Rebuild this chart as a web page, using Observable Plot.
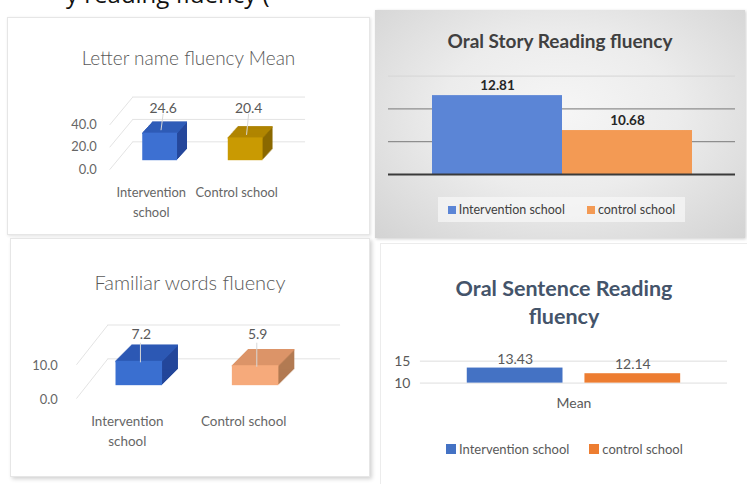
<!DOCTYPE html>
<html>
<head>
<meta charset="utf-8">
<script src="https://cdn.jsdelivr.net/npm/d3@7"></script>
<script src="https://cdn.jsdelivr.net/npm/@observablehq/plot@0.6"></script>
<style>
  body { margin:0; width:747px; height:484px; overflow:hidden; position:relative; background:#fff; font-family: Lato, "Liberation Sans", sans-serif; }
  .abs { position:absolute; }
  .card { position:absolute; background:#fff; box-sizing:border-box; }
  .title { position:absolute; left:0; right:0; text-align:center; white-space:nowrap; }
  .leg { position:absolute; display:flex; align-items:center; white-space:nowrap; }
  .sw { display:inline-block; width:8px; height:8px; margin-right:3px; }
  svg { position:absolute; }
</style>
</head>
<body>
<div class="abs" style="left:66px; top:-18px; font-size:24px; line-height:24px; color:#111; white-space:nowrap; font-family:'Open Sans';">y reading fluency (</div>

<div class="card" id="p1" style="left:7px; top:17px; width:363px; height:218px; border:1px solid #e6e6e6; box-shadow:1px 1px 3px rgba(0,0,0,0.12);">
  <div class="title" style="top:28px; font-size:19px; font-weight:300; color:#595959;">Letter name fluency Mean</div>
</div>

<div class="card" id="p2" style="left:375px; top:10px; width:370px; height:228px; background: radial-gradient(ellipse at 50% 45%, #f6f6f6 0%, #ececec 45%, #d3d3d3 100%); box-shadow:1px 1px 3px rgba(0,0,0,0.2);">
  <div class="title" style="top:19px; font-size:19px; font-weight:700; color:#404040;">Oral Story Reading fluency</div>
  <div class="leg" style="left:63px; top:187px; width:247px; height:25px; background:rgba(248,248,248,0.7); font-size:12.5px; color:#404040; justify-content:center; gap:22px;">
    <span style="display:flex;align-items:center"><span class="sw" style="background:#5b85d6"></span>Intervention school</span>
    <span style="display:flex;align-items:center"><span class="sw" style="background:#f39a54"></span>control school</span>
  </div>
</div>

<div class="card" id="p3" style="left:10px; top:238px; width:360px; height:239px; border:1px solid #e6e6e6; box-shadow:2px 2px 4px rgba(0,0,0,0.18);">
  <div class="title" style="top:31px; font-size:20px; font-weight:300; color:#595959;">Familiar words fluency</div>
</div>

<div class="card" id="p4" style="left:380px; top:243px; width:367px; height:241px; border-left:1px solid #ececec; border-top:1px solid #ececec;">
  <div class="title" style="top:30px; font-size:21.5px; line-height:28px; font-weight:700; color:#44546a;">Oral Sentence Reading<br>fluency</div>
  <div class="leg" style="left:65px; top:197px; font-size:13px; color:#595959;">
    <span style="display:flex;align-items:center;margin-right:20px"><span class="sw" style="background:#4472c4;width:10px;height:10px"></span>Intervention school</span>
    <span style="display:flex;align-items:center"><span class="sw" style="background:#ed7d31;width:10px;height:10px"></span>control school</span>
  </div>
</div>

<script>
// ---------- data ----------
const groups = ["Intervention\nschool", "Control school"];
const letterNameMean = [24.6, 20.4];
const letterTicks = [0, 20, 40];

const familiarGroups = ["Intervention\nschool", "Control school"];
const familiarWordsMean = [7.2, 5.9];
const familiarTicks = [0, 10];

const storyGroups = ["Intervention school", "control school"];
const storyFluency = [12.81, 10.68];
const storyGrid = [10, 12];
const storyFaint = [14];
const storyBase = [8];

const sentenceGroups = ["Intervention school", "control school"];
const sentenceFluency = [13.43, 12.14];
const sentenceTicks = [10, 15];
const sentenceCategory = ["Mean"];

const fmt1 = d3.format(".1f");
const baseStyle = {background: "transparent", fontFamily: "Lato, 'Liberation Sans', sans-serif", overflow: "visible"};

// 3D box helper: front, side and top faces drawn through the scales
function box3d(rows, {hw, depth, ratio, front, top, side}) {
  const marks = [];
  for (let k = 1; k <= depth; k++) {
    marks.push(Plot.rect(rows, {x1: d => d.i - hw, x2: d => d.i + hw, y1: d => 0, y2: d => d.v,
      fill: d => side[d.i], dx: k, dy: -k * ratio}));
  }
  for (let k = 0; k <= depth; k++) {
    marks.push(Plot.ruleY(rows, {x1: d => d.i - hw, x2: d => d.i + hw, y: d => d.v,
      stroke: d => top[d.i], strokeWidth: 1.6, dx: k, dy: -k * ratio}));
  }
  marks.push(Plot.rect(rows, {x1: d => d.i - hw, x2: d => d.i + hw, y1: d => 0, y2: d => d.v,
    fill: d => front[d.i]}));
  return marks;
}

// ---------- Panel 1: Letter name fluency Mean ----------
{
  const rows = groups.map((g, i) => ({i, g, v: letterNameMean[i]}));
  const ticks = letterTicks.map(t => ({t}));
  const pxu = 45 / 40;
  const plot = Plot.plot({
    width: 363, height: 218,
    style: baseStyle,
    x: {type: "linear", domain: [0, 1], range: [153.5, 239.5], axis: null},
    y: {type: "linear", domain: [0, 40], range: [144, 99], axis: null},
    color: {type: "identity"},
    marks: [
      Plot.ruleY(ticks, {y: "t", x1: d => -0.32, x2: d => 1.70, dy: -19, stroke: "#e3e3e3"}),
      Plot.link(ticks, {x1: d => -0.59, x2: d => -0.32, y1: d => d.t - 8, y2: d => d.t + 19 / pxu, stroke: "#e3e3e3"}),
      Plot.text(ticks, {x: d => -0.74, y: d => d.t - 8, text: d => fmt1(d.t), textAnchor: "end", fill: "#666", fontSize: 13}),
      ...box3d(rows, {hw: 0.2035, depth: 10, ratio: 1.1,
        front: ["#3d70d2", "#c99a02"], top: ["#2f5cb8", "#b08500"], side: ["#25479b", "#8a6800"]}),
      Plot.link(rows, {x1: d => d.i + 0.035, x2: d => d.i + 0.01, y1: d => 42, y2: d => d.v + 3 / pxu, stroke: "#d8d8d8"}),
      Plot.text(rows, {x: "i", y: d => 47, text: d => fmt1(d.v), dx: 3, fill: "#595959", fontSize: 14}),
      Plot.text(rows, {x: "i", y: d => -20.4, text: "g", dx: -9, fill: "#666", fontSize: 13, lineAnchor: "top", lineHeight: 1.5})
    ]
  });
  document.getElementById("p1").appendChild(plot);
  plot.style.left = "-1px"; plot.style.top = "-1px";
}

// ---------- Panel 2: Oral Story Reading fluency ----------
{
  const rows = storyGroups.map((g, i) => ({g, v: storyFluency[i]}));
  const plot = Plot.plot({
    width: 370, height: 228,
    marginLeft: 13, marginRight: 10,
    style: baseStyle,
    x: {type: "band", domain: storyGroups, range: [57, 317], padding: 0, axis: null},
    y: {type: "linear", domain: [8, 14], range: [164, 65.6], axis: null},
    color: {type: "identity"},
    marks: [
      Plot.ruleY(storyFaint, {stroke: "#d6d6d6"}),
      Plot.ruleY(storyGrid, {stroke: "#8e8e8e", strokeWidth: 1.3}),
      Plot.barY(rows, {x: "g", y1: d => 8, y2: "v", fill: d => d.g === storyGroups[0] ? "#5b85d6" : "#f39a54"}),
      Plot.ruleY(storyBase, {stroke: "#3a3a3a", strokeWidth: 2.2}),
      Plot.text(rows, {x: "g", y: "v", text: d => d3.format(".2f")(d.v), dy: -10, fill: "#262626", fontSize: 13.5, fontWeight: "bold"})
    ]
  });
  document.getElementById("p2").appendChild(plot);
  plot.style.left = "0px"; plot.style.top = "0px";
}

// ---------- Panel 3: Familiar words fluency ----------
{
  const rows = familiarGroups.map((g, i) => ({i, g, v: familiarWordsMean[i]}));
  const ticks = familiarTicks.map(t => ({t}));
  const pxu = 3.4;
  const plot = Plot.plot({
    width: 360, height: 239,
    style: baseStyle,
    x: {type: "linear", domain: [0, 1], range: [129.5, 246.5], axis: null},
    y: {type: "linear", domain: [0, 10], range: [148, 114], axis: null},
    color: {type: "identity"},
    marks: [
      Plot.ruleY(ticks, {y: "t", x1: d => -0.27, x2: d => 1.73, dy: -27, stroke: "#e3e3e3"}),
      Plot.link(ticks, {x1: d => -0.54, x2: d => -0.27, y1: d => d.t - 13 / pxu, y2: d => d.t + 27 / pxu, stroke: "#e3e3e3"}),
      Plot.text(ticks, {x: d => -0.70, y: d => d.t - 14 / pxu, text: d => fmt1(d.t), textAnchor: "end", fill: "#666", fontSize: 13}),
      ...box3d(rows, {hw: 0.2, depth: 16, ratio: 1,
        front: ["#3a6fd0", "#f6aa7b"], top: ["#2c58b5", "#dc9468"], side: ["#23469a", "#b27a52"]}),
      Plot.link(rows, {x1: d => d.i + 0.01, x2: d => d.i + 0.01, y1: d => 12.7, y2: d => d.v - 1 / pxu, stroke: "#d8d8d8"}),
      Plot.text(rows, {x: "i", y: d => 15, text: d => fmt1(d.v), dx: 2, fill: "#595959", fontSize: 14}),
      Plot.text(rows, {x: "i", y: d => -7.9, text: "g", dx: -12, fill: "#666", fontSize: 13.5, lineAnchor: "top", lineHeight: 1.45})
    ]
  });
  document.getElementById("p3").appendChild(plot);
  plot.style.left = "-1px"; plot.style.top = "-1px";
}

// ---------- Panel 4: Oral Sentence Reading fluency ----------
{
  const rows = sentenceGroups.map((g, i) => ({g, v: sentenceFluency[i]}));
  const plot = Plot.plot({
    width: 367, height: 241,
    marginLeft: 40, marginRight: 19, marginBottom: 60,
    style: baseStyle,
    x: {type: "band", domain: sentenceGroups, range: [87, 301], paddingInner: 0.19, paddingOuter: 0, axis: null},
    y: {type: "linear", domain: [10, 15], range: [140, 118], ticks: sentenceTicks, tickSize: 0, tickPadding: 10, label: null, tickFormat: d3.format("d")},
    color: {type: "identity"},
    marks: [
      Plot.ruleY(sentenceTicks, {stroke: "#dedede"}),
      Plot.barY(rows, {x: "g", y1: d => 10, y2: "v", fill: d => d.g === sentenceGroups[0] ? "#4472c4" : "#ed7d31"}),
      Plot.text(rows, {x: "g", y: "v", text: d => d3.format(".2f")(d.v), dy: -9, fill: "#595959", fontSize: 14}),
      Plot.text(sentenceCategory, {frameAnchor: "bottom", text: d => d, dy: -16, fill: "#595959", fontSize: 14})
    ]
  });
  plot.querySelectorAll("[aria-label='y-axis'] text, g[aria-label='y-axis tick label'] text").forEach(t => { t.style.fontSize = "14px"; t.setAttribute("fill", "#595959"); });
  document.getElementById("p4").appendChild(plot);
  plot.style.left = "-1px"; plot.style.top = "-1px";
}
</script>
</body>
</html>
